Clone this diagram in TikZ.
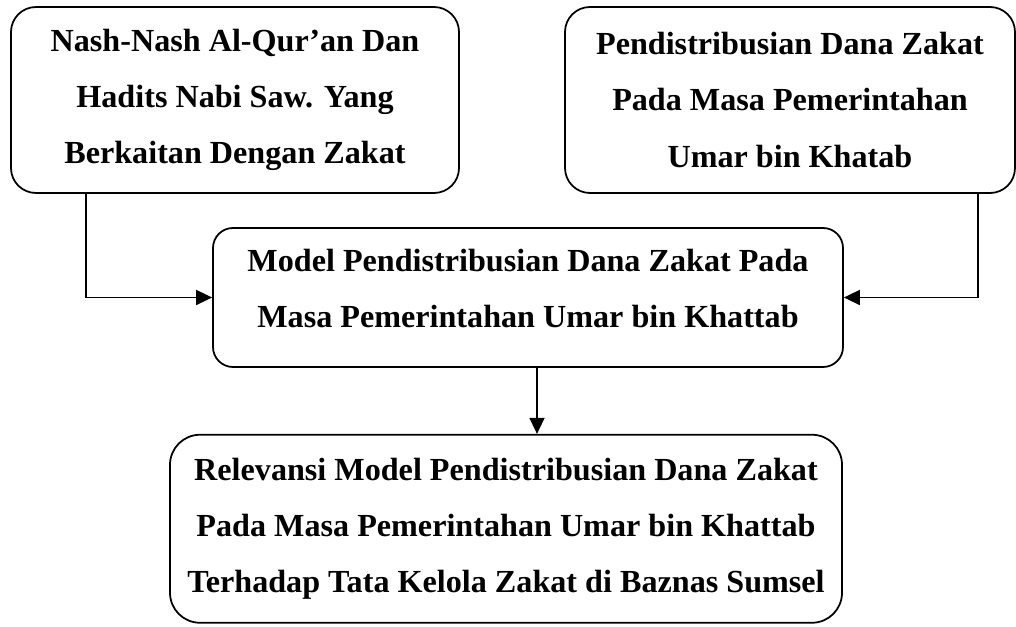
\documentclass[tikz,border=0pt]{standalone}
\usepackage{fontspec}
\setmainfont{Liberation Serif}
\usetikzlibrary{arrows.meta, positioning}

\begin{document}
\begin{tikzpicture}[
    box/.style={draw, line width=1pt, rounded corners=0.5cm, align=center, inner sep=0pt,
                font=\fontsize{18.3}{32}\selectfont\bfseries},
    arrow/.style={-{Triangle[length=0.32cm, width=0.3cm]}, line width=0.9pt}
]
\useasboundingbox (0,0) rectangle (20.32,-12.54);

% source boxes
\node[box, minimum width=8.96cm, minimum height=3.72cm] (nash) at (4.70,-2.00)
    {Nash-Nash Al-Qur'an Dan\\Hadits Nabi Saw. Yang\\Berkaitan Dengan Zakat};
\node[box, minimum width=9.0cm, minimum height=3.72cm] (umar) at (15.80,-2.00)
    {Pendistribusian Dana Zakat\\Pada Masa Pemerintahan\\Umar bin Khatab};

% model box
\node[box, rounded corners=0.4cm, minimum width=12.6cm, minimum height=2.78cm] (model) at (10.56,-5.95)
    {Model Pendistribusian Dana Zakat Pada\\Masa Pemerintahan Umar bin Khattab\\[-0.77cm]};

% relevance box
\node[box, rounded corners=0.6cm, minimum width=13.44cm, minimum height=3.76cm,
      below=1.32cm of model.south, xshift=-0.44cm, anchor=north] (relevansi)
    {Relevansi Model Pendistribusian Dana Zakat\\Pada Masa Pemerintahan Umar bin Khattab\\Terhadap Tata Kelola Zakat di Baznas Sumsel};

% connectors
\draw[arrow] ([xshift=-2.98cm]nash.south) |- (model.west);
\draw[arrow] ([xshift=3.76cm]umar.south) |- (model.east);
\draw[arrow] ([xshift=0.18cm]model.south) -- ([xshift=0.18cm]model.south |- relevansi.north);

\end{tikzpicture}
\end{document}
